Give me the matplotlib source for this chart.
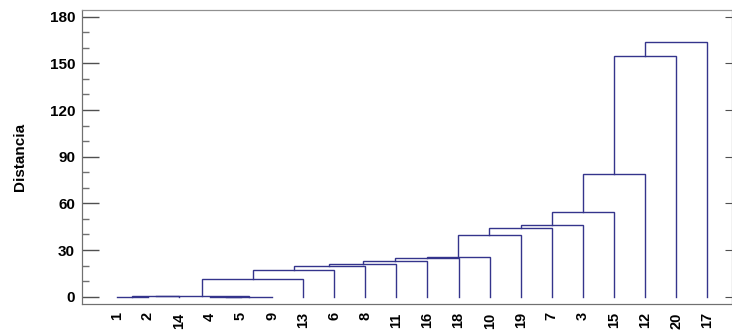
import matplotlib.pyplot as plt
from matplotlib.ticker import MultipleLocator

# leaf labels, left to right
labels = ['1', '2', '14', '4', '5', '9', '13', '6', '8', '11',
          '16', '18', '10', '19', '7', '3', '15', '12', '20', '17']

# merges like a linkage table: left child, right child, distance
# (0-19 are leaves, 20+ are the clusters made by earlier rows)
left_child = [0, 20, 3, 22, 21, 24, 25, 26, 27, 28, 29, 30, 31, 32, 33, 34, 35, 36, 37]
right_child = [1, 2, 4, 5, 23, 6, 7, 8, 9, 10, 11, 12, 13, 14, 15, 16, 17, 18, 19]
distance = [0.0, 0.4, 0.0, 0.1, 0.4, 11.4, 16.9, 19.5, 21.2, 22.7, 25.0, 25.6,
            39.8, 44.2, 45.9, 54.2, 78.7, 154.7, 163.9]

line_col = '#34348c'

plt.rcParams['font.family'] = ['Liberation Sans', 'DejaVu Sans']

fig = plt.figure(figsize=(7.32, 3.33), dpi=100)
ax = fig.add_axes([0.112, 0.087, 0.888, 0.883])

# x position and height of every node
xpos = {i: float(i) for i in range(len(labels))}
hgt = {i: 0.0 for i in range(len(labels))}

for k in range(len(distance)):
  a, b, d = left_child[k], right_child[k], distance[k]
  xa, xb = xpos[a], xpos[b]
  ax.plot([xa, xa, xb, xb], [hgt[a], d, d, hgt[b]], color=line_col, lw=1.0,
          solid_joinstyle='miter')
  node = len(labels) + k
  xpos[node] = (xa + xb) / 2
  hgt[node] = d

ax.set_xlim(-1.12, 19.8)
ax.set_ylim(-4.7, 184.3)

ax.set_xticks(range(len(labels)))
ax.set_xticklabels(labels, rotation=90, fontsize=10.5, fontweight='bold')
ax.tick_params(axis='x', length=0, pad=6)

ax.yaxis.set_major_locator(MultipleLocator(30))
ax.yaxis.set_minor_locator(MultipleLocator(10))
ax.tick_params(axis='y', which='major', direction='in', length=12, width=1,
               color='#505050', labelsize=11, pad=5)
ax.tick_params(axis='y', which='minor', direction='in', length=5, width=1,
               color='#707070')
for t in ax.get_yticklabels():
  t.set_fontweight('bold')

ax.set_ylabel('Distancia', fontsize=11, fontweight='bold', labelpad=16)

# short ticks on the right side
ax2 = ax.twinx()
ax2.set_ylim(ax.get_ylim())
ax2.yaxis.set_major_locator(MultipleLocator(30))
ax2.tick_params(axis='y', direction='in', length=5, color='#505050', labelright=False)

for a_ in [ax, ax2]:
  for s in ['top', 'right']:
    a_.spines[s].set_color('#909090')
  for s in ['left', 'bottom']:
    a_.spines[s].set_color('#707070')

fig.savefig('out.png', dpi=100)
